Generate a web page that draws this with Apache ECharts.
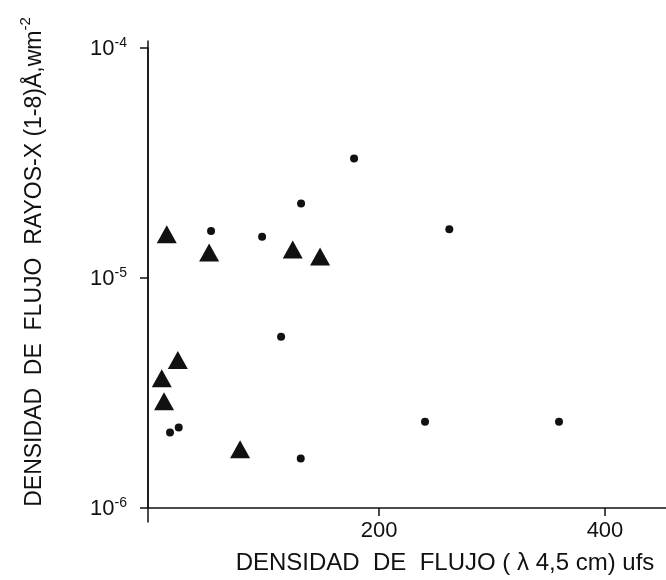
<!DOCTYPE html>
<html><head><meta charset="utf-8">
<script src="https://cdn.jsdelivr.net/npm/echarts@6/dist/echarts.min.js"></script>
<style>html,body{margin:0;padding:0;background:#fff}#c{width:666px;height:580px}</style>
</head><body><div id="c"></div>
<script>
// Triangles: [x flux density (ufs), X-ray flux (W m^-2)]
const triX = [12.1, 49.6, 123.6, 147.8, 21.9, 7.7, 9.7, 77.0];
const triY = [1.55e-5, 1.29e-5, 1.33e-5, 1.24e-5, 4.40e-6, 3.67e-6, 2.91e-6, 1.80e-6];
// Dots
const dotX = [51.3, 96.5, 131.0, 113.3, 15.0, 22.7, 130.7, 177.9, 262.2, 240.7, 359.3];
const dotY = [1.60e-5, 1.51e-5, 2.11e-5, 5.56e-6, 2.13e-6, 2.24e-6, 1.64e-6, 3.31e-5, 1.63e-5, 2.37e-6, 2.37e-6];
const xTicks = [200, 400];
const yTicks = [1e-6, 1e-5, 1e-4];

const FONT = 'Liberation Sans';
const ink = '#111';
const chart = echarts.init(document.getElementById('c'));
chart.setOption({
  animation: false,
  backgroundColor: '#fff',
  grid: [
    {left: 148, right: 0, top: 48, bottom: 72},
    {left: 148, right: 0, top: 41, bottom: 58}
  ],
  xAxis: [{
    gridIndex: 0, type: 'value', min: -4.5, max: 454,
    axisLine: {onZero: false, lineStyle: {color: ink, width: 1.5}},
    axisTick: {show: true, length: 8, lineStyle: {color: ink, width: 1.5}, customValues: xTicks},
    axisLabel: {color: ink, fontFamily: FONT, fontSize: 22, margin: 12, customValues: xTicks},
    splitLine: {show: false},
    name: 'DENSIDAD  DE  FLUJO ( λ 4,5 cm) ufs',
    nameLocation: 'middle', nameGap: 43,
    nameTextStyle: {color: ink, fontFamily: FONT, fontSize: 24, padding: [0, 0, 0, 76]}
  }, {
    gridIndex: 1, type: 'value', show: false, min: 0, max: 1
  }],
  yAxis: [{
    gridIndex: 0, type: 'log', min: 1e-6, max: 1e-4, logBase: 10,
    axisLine: {onZero: false, lineStyle: {color: ink, width: 1.5}},
    axisTick: {show: true, length: 8, lineStyle: {color: ink, width: 1.5}},
    minorTick: {show: false},
    splitLine: {show: false},
    axisLabel: {
      margin: 21,
      formatter: function (v) {
        const e = Math.round(Math.log10(v));
        return '{b|10}{s|' + e + '}';
      },
      rich: {
        b: {color: ink, fontFamily: FONT, fontSize: 22, verticalAlign: 'bottom', lineHeight: 24},
        s: {color: ink, fontFamily: FONT, fontSize: 14, verticalAlign: 'top', lineHeight: 24, padding: [0, 0, 11, 0]}
      }
    },
    name: '{t|DENSIDAD  DE  FLUJO  RAYOS-X (1-8)Å,wm}{s|-2}',
    nameLocation: 'middle', nameGap: 102, nameRotate: 90,
    nameTextStyle: {
      padding: [0, 0, 0, 32],
      rich: {
        t: {color: ink, fontFamily: FONT, fontSize: 23, lineHeight: 28, verticalAlign: 'bottom'},
        s: {color: ink, fontFamily: FONT, fontSize: 15, lineHeight: 28, verticalAlign: 'top', padding: [0, 0, 10, 0]}
      }
    }
  }, {
    gridIndex: 1, type: 'value', min: 0, max: 1,
    axisLine: {show: true, onZero: false, lineStyle: {color: ink, width: 1.5}},
    axisTick: {show: false}, axisLabel: {show: false}, splitLine: {show: false}
  }],
  series: [{
    type: 'scatter', xAxisIndex: 0, yAxisIndex: 0,
    symbol: 'triangle', symbolSize: [20, 18],
    itemStyle: {color: ink, opacity: 1},
    data: triX.map((x, i) => [x, triY[i]])
  }, {
    type: 'scatter', xAxisIndex: 0, yAxisIndex: 0,
    symbol: 'circle', symbolSize: 8,
    itemStyle: {color: ink, opacity: 1},
    data: dotX.map((x, i) => [x, dotY[i]])
  }]
});
</script></body></html>
